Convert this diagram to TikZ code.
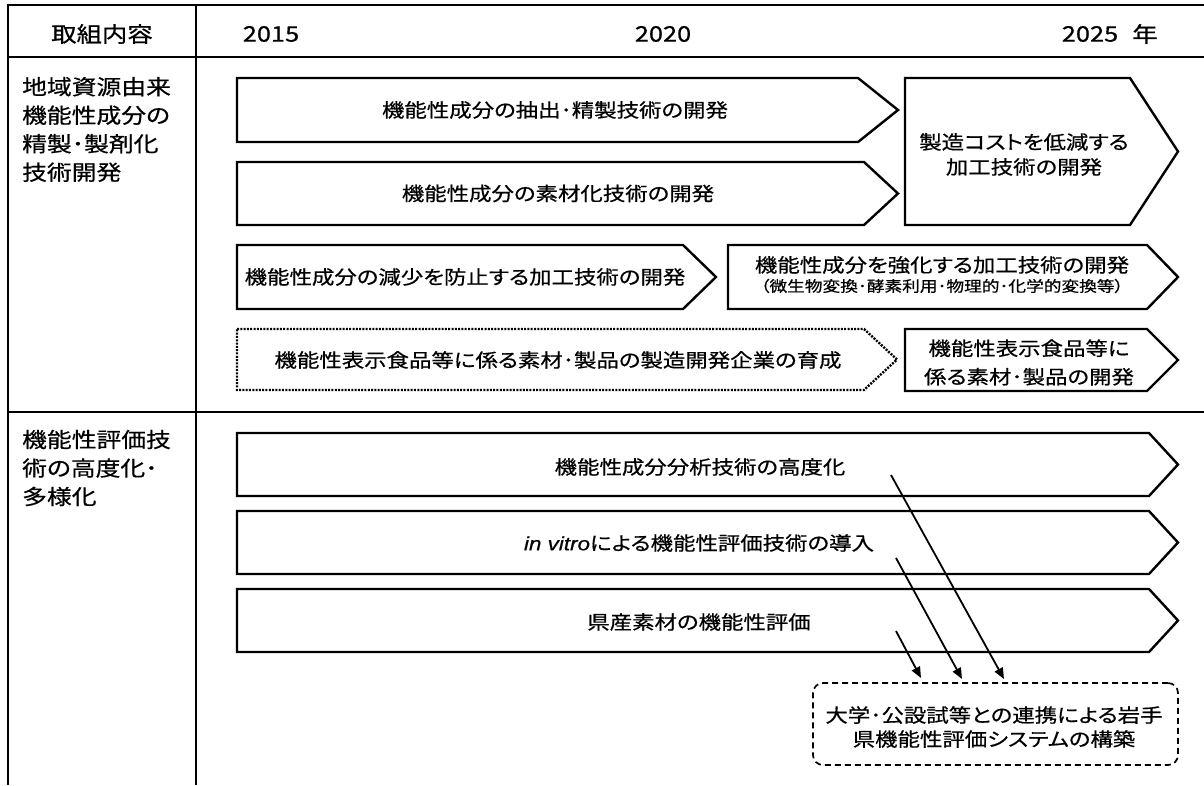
\documentclass[tikz,border=0pt]{standalone}
\usepackage{fontspec}
\setmainfont{Noto Sans CJK JP}[FakeStretch=1.18,FakeBold=0.6,RawFeature={+palt}]
\newfontfamily\latsans{Liberation Sans}[FakeStretch=1.18,FakeBold=0.6]
\usetikzlibrary{arrows.meta}
\begin{document}
\begin{tikzpicture}[x=1pt,y=-1pt,
  tbl/.style={line width=1.8pt},
  cbox/.style={draw, line width=2.4pt, line join=miter},
  dotbox/.style={draw, line width=2.4pt, dash pattern=on 2pt off 1.3pt},
  dashbox/.style={draw, line width=1.7pt, dash pattern=on 6pt off 4pt, rounded corners=10pt},
  hdr/.style={inner sep=0pt, font=\fontsize{21.5}{24}\selectfont},
  lab/.style={inner sep=0pt, anchor=west, align=left, font=\fontsize{21}{28.5}\selectfont},
  txt/.style={inner sep=0pt, align=center, font=\fontsize{19}{25}\selectfont},
  small/.style={inner sep=0pt, font=\fontsize{15}{18}\selectfont},
  conn/.style={line width=1.8pt, -{Triangle[length=11pt,width=9pt]}}]
\useasboundingbox (0,0) rectangle (1204,785);
\fill[white] (0,0) rectangle (1204,785);
% table
\draw[tbl] (1204,5) -- (8,5) -- (8,785);
\draw[tbl] (196,5) -- (196,785);
\draw[tbl] (8,57) -- (1204,57);
\draw[tbl] (8,412) -- (1204,412);
% header
\node[hdr] (h0) at (102,34) {取組内容};
\node[hdr] (h1) at (271,34) {2015};
\node[hdr] (h2) at (663,34) {2020};
\node[hdr] (h3) at (1090,34) {2025};
\node[hdr] (h4) at (1145,34) {年};
% row labels
\node[lab] (lab1) at (22,129.5) {地域資源由来\\機能性成分の\\精製･製剤化\\技術開発};
\node[lab] (lab2) at (22,468) {機能性評価技\\術の高度化･\\多様化};
% chevrons row 1
\draw[cbox] (237,78) -- (858,78) -- (898,110) -- (858,142) -- (237,142) -- cycle;
\node[txt] (a1) at (555,110) {機能性成分の抽出･精製技術の開発};
\draw[cbox] (237,162) -- (864,162) -- (898,193.5) -- (864,225) -- (237,225) -- cycle;
\node[txt] (a2) at (558,193.5) {機能性成分の素材化技術の開発};
\draw[cbox] (905,78) -- (1130,78) -- (1178,151.5) -- (1130,225) -- (905,225) -- cycle;
\node[txt] (b) at (1024,154.5) {製造コストを低減する\\加工技術の開発};
% row 3
\draw[cbox] (237,245) -- (683,245) -- (716,277) -- (683,309) -- (237,309) -- cycle;
\node[txt] (c1) at (465,277) {機能性成分の減少を防止する加工技術の開発};
\draw[cbox] (728,245) -- (1147,245) -- (1178,277) -- (1147,309) -- (728,309) -- cycle;
\node[txt] (c2) at (942,265) {機能性成分を強化する加工技術の開発};
\node[small] (c3) at (942,286) {（微生物変換･酵素利用･物理的･化学的変換等）};
% row 4
\draw[dotbox] (237,329) -- (864,329) -- (897,359.5) -- (864,390) -- (237,390) -- cycle;
\node[txt] (d1) at (558,360) {機能性表示食品等に係る素材･製品の製造開発企業の育成};
\draw[cbox] (905,329) -- (1147,329) -- (1178,360) -- (1147,391) -- (905,391) -- cycle;
\node[txt, font=\fontsize{19}{28.5}\selectfont] (d2) at (1029,362.5) {機能性表示食品等に\\係る素材･製品の開発};
% section 2
\draw[cbox] (237,433) -- (1149,433) -- (1178,464.5) -- (1149,496) -- (237,496) -- cycle;
\node[txt] (e1) at (700,467) {機能性成分分析技術の高度化};
\draw[cbox] (237,511) -- (1149,511) -- (1178,542.5) -- (1149,574) -- (237,574) -- cycle;
\node[txt] (e2) at (699,543) {{\latsans\itshape in vitro}による機能性評価技術の導入};
\draw[cbox] (237,589) -- (1149,589) -- (1178,620.5) -- (1149,652) -- (237,652) -- cycle;
\node[txt] (e3) at (699,622) {県産素材の機能性評価};
\node[dashbox, minimum width=365pt, minimum height=82pt] (f) at (995.5,724) {};
\node[txt, font=\fontsize{19}{24}\selectfont] (ft) at (994,727) {大学･公設試等との連携による岩手\\県機能性評価システムの構築};
% connectors
\coordinate (s1) at (891,475);
\coordinate (t1) at (1004,679);
\coordinate (s2) at (896,558);
\coordinate (t2) at (962,679);
\coordinate (s3) at (896,631);
\coordinate (t3) at (921,678);
\draw[conn] (s1) -- (t1);
\draw[conn] (s2) -- (t2);
\draw[conn] (s3) -- (t3);
\end{tikzpicture}
\end{document}
